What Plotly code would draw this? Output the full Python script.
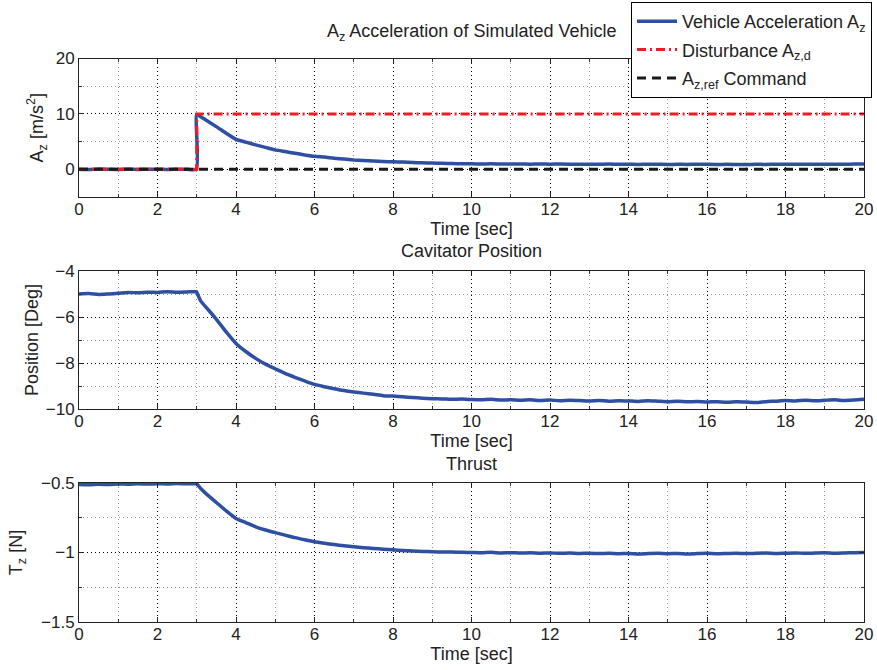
import plotly.graph_objects as go

# Sample times [sec]
t_sec = [0, 0.25, 0.5, 0.75, 1, 1.25, 1.5, 1.75, 2, 2.25, 2.5, 2.75, 2.99, 3.0, 3.1] + \
        [3.25 + 0.25 * k for k in range(68)]

# Vehicle acceleration A_z [m/s^2]
accel_az = [0.03, -0.04, 0.05, 0.0, -0.03, 0.04, -0.02, 0.03, 0.0, -0.04, 0.02, 0.01,
            0.02, 9.9, 9.5,
            8.8, 7.7, 6.5,
            5.4, 4.9, 4.4, 3.95,
            3.5, 3.2, 2.9, 2.6,
            2.35, 2.2, 2.0, 1.85,
            1.7, 1.6, 1.5, 1.42,
            1.35, 1.3, 1.22, 1.17,
            1.12, 1.08, 1.03, 1.0,
            0.98, 0.96, 0.99, 0.94,
            0.95, 0.97, 0.93, 0.96,
            0.92, 0.95, 0.93, 0.9,
            0.93, 0.91, 0.94, 0.9,
            0.91, 0.88, 0.92, 0.9,
            0.87, 0.9, 0.88, 0.92,
            0.89, 0.87, 0.9, 0.88,
            0.86, 0.9, 0.88, 0.91,
            0.93, 0.9, 0.92, 0.89,
            0.9, 0.93, 0.91, 0.94,
            0.95]

# Disturbance step A_z,d and reference command A_z,ref
dist_t = [0, 3, 3, 20]
dist_az = [0, 0, 10, 10]
cmd_t = [0, 20]
cmd_az = [0, 0]

# Cavitator position [Deg]
cav_pos = [-5.0, -4.98, -5.02, -5.0, -4.97, -4.93, -4.95, -4.92, -4.93, -4.9, -4.92, -4.91,
           -4.9, -4.92, -5.3,
           -5.6, -6.1, -6.65,
           -7.15, -7.5, -7.8, -8.05,
           -8.25, -8.45, -8.62, -8.78,
           -8.93, -9.03, -9.12, -9.2,
           -9.26, -9.31, -9.36, -9.42,
           -9.44, -9.47, -9.5, -9.53,
           -9.55, -9.56, -9.58, -9.57,
           -9.59, -9.6, -9.58, -9.61,
           -9.6, -9.62, -9.6, -9.63,
           -9.61, -9.64, -9.62, -9.63,
           -9.65, -9.63, -9.66, -9.64,
           -9.65, -9.67, -9.64, -9.66,
           -9.68, -9.66, -9.69, -9.67,
           -9.7, -9.68, -9.71, -9.69,
           -9.7, -9.72, -9.68, -9.66,
           -9.63, -9.65, -9.62, -9.64,
           -9.62, -9.6, -9.63, -9.61,
           -9.58]

# Thrust T_z [N]
thrust_tz = [-0.51, -0.512, -0.509, -0.511, -0.507, -0.509, -0.506, -0.508, -0.505, -0.507, -0.504, -0.506,
             -0.505, -0.506, -0.54,
             -0.58, -0.64, -0.70,
             -0.755, -0.785, -0.815, -0.838,
             -0.857, -0.875, -0.893, -0.908,
             -0.922, -0.933, -0.943, -0.951,
             -0.958, -0.965, -0.971, -0.976,
             -0.981, -0.985, -0.989, -0.992,
             -0.995, -0.997, -0.996, -0.999,
             -1.0, -1.002, -0.999, -1.003,
             -1.001, -1.004, -1.002, -1.005,
             -1.003, -1.006, -1.004, -1.007,
             -1.005, -1.008, -1.006, -1.009,
             -1.007, -1.01, -1.008, -1.006,
             -1.009, -1.007, -1.01, -1.008,
             -1.006, -1.009, -1.007, -1.005,
             -1.008, -1.006, -1.004, -1.007,
             -1.005, -1.003, -1.006, -1.004,
             -1.002, -1.005, -1.003, -1.001,
             -1.0]

BLUE = "#2f4fa3"
RED = "#ee1c25"
BLACK = "#1a1a1a"
FONT = "Liberation Sans, Arial, sans-serif"
FS = 18
TICK_FS = 17

fig = go.Figure()

blue_line = dict(color=BLUE, width=3.5, shape="spline", smoothing=0.6)
fig.add_trace(go.Scatter(x=t_sec, y=accel_az, mode="lines", name="Vehicle Acceleration A<sub>z</sub>",
                         legendgroup="a", line=blue_line, xaxis="x", yaxis="y"))
fig.add_trace(go.Scatter(x=dist_t, y=dist_az, mode="lines", name="Disturbance A<sub>z,d</sub>",
                         legendgroup="b", line=dict(color=RED, width=3, dash="9px,4px,2px,4px"),
                         xaxis="x", yaxis="y"))
fig.add_trace(go.Scatter(x=cmd_t, y=cmd_az, mode="lines", name="A<sub>z,ref</sub> Command",
                         legendgroup="c", line=dict(color=BLACK, width=3, dash="9px,6px"),
                         xaxis="x", yaxis="y"))
fig.add_trace(go.Scatter(x=t_sec, y=cav_pos, mode="lines", showlegend=False,
                         line=blue_line, xaxis="x2", yaxis="y2"))
fig.add_trace(go.Scatter(x=t_sec, y=thrust_tz, mode="lines", showlegend=False,
                         line=blue_line, xaxis="x3", yaxis="y3"))

X0, X1 = 79 / 877, 864 / 877
H = 670.0
panels = [(58.5, 197.0), (271.0, 409.0), (483.0, 622.0)]
doms = [[1 - b / H, 1 - t / H] for t, b in panels]

grid_major = dict(showgrid=True, gridcolor="#000000", gridwidth=1, griddash="1px,3px")
minor_common = dict(showgrid=True, gridcolor="#9a9a9a", gridwidth=1, griddash="1px,3px",
                    ticks="inside", ticklen=3, tickcolor="#333")
axis_common = dict(showline=True, linecolor="#222", linewidth=1, mirror="allticks",
                   ticks="inside", ticklen=5, tickcolor="#222", zeroline=False, automargin=False,
                   tickfont=dict(family=FONT, size=TICK_FS, color="#222"), **grid_major)

x_common = dict(range=[0, 20], tick0=0, dtick=2, minor=dict(dtick=1, **minor_common),
                ticklabelstandoff=-3,
                title=dict(text="Time [sec]", font=dict(family=FONT, size=FS, color="#222"), standoff=0),
                domain=[X0, X1], **axis_common)

y_specs = [
    dict(range=[-5, 20], tick0=0, dtick=10, minor=dict(dtick=5, **minor_common),
         title=dict(text="A<sub>z</sub> [m/s<sup>2</sup>]", standoff=7,
                    font=dict(family=FONT, size=FS, color="#222"))),
    dict(range=[-10, -4], tick0=-4, dtick=2, minor=dict(dtick=1, **minor_common),
         title=dict(text="Position [Deg]", standoff=2,
                    font=dict(family=FONT, size=FS, color="#222"))),
    dict(range=[-1.5, -0.5], tick0=-0.5, dtick=0.5, minor=dict(dtick=0.25, **minor_common),
         title=dict(text="T<sub>z</sub> [N]", standoff=13,
                    font=dict(family=FONT, size=FS, color="#222"))),
]

layout = dict(
    width=877, height=670, margin=dict(l=0, r=0, t=0, b=0),
    paper_bgcolor="white", plot_bgcolor="white",
    font=dict(family=FONT, size=FS, color="#222"),
    legend=dict(x=631 / 877, y=1 - 2 / 670, xanchor="left", yanchor="top",
                bgcolor="white", bordercolor="#000", borderwidth=1, itemwidth=40,
                font=dict(family=FONT, size=FS, color="#222"), tracegroupgap=2),
)
for i in range(3):
    sx = "" if i == 0 else str(i + 1)
    xa = dict(x_common)
    xa["anchor"] = "y" + sx
    ya = dict(axis_common)
    ya.update(y_specs[i])
    ya["domain"] = doms[i]
    ya["anchor"] = "x" + sx
    layout["xaxis" + sx] = xa
    layout["yaxis" + sx] = ya

titles = [("A<sub>z</sub> Acceleration of Simulated Vehicle", 32),
          ("Cavitator Position", 251),
          ("Thrust", 464)]
layout["annotations"] = [dict(text=txt, x=(X0 + X1) / 2, y=1 - yy / H, xref="paper", yref="paper",
                              xanchor="center", yanchor="middle", showarrow=False,
                              font=dict(family=FONT, size=FS, color="#222"))
                         for txt, yy in titles]

fig.update_layout(**layout)
fig.write_html("out.html")
